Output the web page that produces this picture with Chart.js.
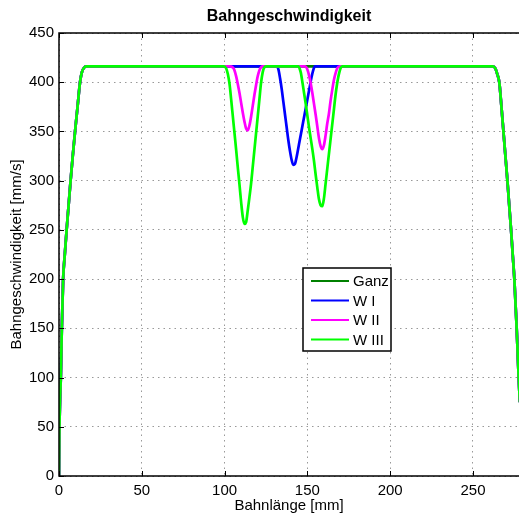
<!DOCTYPE html>
<html>
<head>
<meta charset="utf-8">
<script src="https://cdn.jsdelivr.net/npm/chart.js@4"></script>
<style>
  html, body { margin: 0; padding: 0; background: #fff; }
  #wrap { width: 519px; height: 519px; }
</style>
</head>
<body>
<div id="wrap"><canvas id="chart" width="519" height="519"></canvas></div>
<script>
// ticks
const xTicks = [0, 50, 100, 150, 200, 250];
const yTicks = [0, 50, 100, 150, 200, 250, 300, 350, 400, 450];

// shared run-up (acceleration) and run-out (braking) of every profile
const upX = [0, 0.2, 0.6, 1.1, 1.7, 2.5, 3.5, 4.6, 5.8, 7.0, 8.3, 9.7, 11.2, 12.7, 13.8, 15.0, 16.5];
const upV = [0, 40, 75, 100, 150, 200, 225, 250, 275, 300, 325, 350, 375, 400, 410, 414.5, 416];
const downX = [262.0, 263.5, 264.7, 265.9, 267.2, 268.4, 269.6, 270.8, 271.9, 273.0, 274.0, 275.0, 275.7, 276.4, 277.0, 277.6, 278.3, 279.0, 279.6];
const downV = [416, 414, 408, 400, 375, 350, 325, 300, 275, 250, 225, 200, 175, 150, 125, 100, 75, 40, 0];

// W I: one dip
const w1X = [131.5, 132.5, 133.5, 134.5, 135.5, 136.5, 137.5, 138.5, 139.5, 140.5, 141.5, 142.5, 143.5, 144.5, 145.5, 146.5, 147.5, 148.5, 149.5, 150.5, 151.5, 152.5, 153.5, 154.5];
const w1V = [416, 413, 404, 393, 380, 367, 354, 341, 330, 321, 316, 317, 324, 333, 342, 351, 360, 369, 378, 387, 396, 405, 412, 416];

// W II: two dips
const w2X = [103, 105, 106, 107, 108, 109, 110, 111, 112, 113, 114, 115, 116, 117, 118, 119, 120, 121, 122, 123,
             148.5, 150, 151, 152, 153, 154, 155, 156, 157, 158, 159, 160, 161, 162, 163, 164, 165, 166, 167, 168, 169.5];
const w2V = [416, 415, 412, 406, 398, 389, 379, 369, 360, 353, 351, 356, 365, 376, 387, 397, 406, 412, 415, 416,
             416, 413, 407, 399, 389, 378, 367, 355, 343, 335, 332, 336, 346, 358, 368, 381, 392, 402, 409, 414, 416];

// W III: two deeper dips
const w3X = [99.5, 101, 102, 103, 104, 105, 106, 107, 108, 109, 110, 111, 112, 113, 114, 115, 116, 117, 118, 119, 120, 121, 122, 123, 124, 125.5,
             144.5, 146, 147, 148, 149, 150, 151, 152, 153, 154, 155, 156, 157, 158, 159, 160, 161, 162, 163, 164, 165, 166, 167, 168, 169, 170, 171];
const w3V = [416, 414, 408, 398, 382, 365, 348, 331, 313, 296, 278, 263, 256, 258, 270, 283, 297, 314, 331, 348, 365, 382, 399, 410, 415, 416,
             416, 410, 400, 389, 378, 366, 354, 343, 332, 320, 306, 293, 281, 275, 274, 282, 297, 312, 327, 342, 357, 372, 387, 399, 408, 414, 416];

const seriesNames = ['Ganz', 'W I', 'W II', 'W III'];
const seriesColors = ['#008000', '#0000ff', '#ff00ff', '#00ff00'];

function profile(midX, midV) {
   const xs = upX.concat(midX, downX);
   const vs = upV.concat(midV, downV);
   return xs.map((x, i) => ({ x: x, y: vs[i] }));
}

const profiles = [profile([], []), profile(w1X, w1V), profile(w2X, w2V), profile(w3X, w3V)];

const FONT = 'Liberation Sans, Arial, Helvetica, sans-serif';

// axes box with inward tick marks, and the legend box inside the plot
const framePlugin = {
   id: 'frame',
   afterDatasetsDraw(chart) {
      const ctx = chart.ctx;
      const a = chart.chartArea;
      const xs = chart.scales.x, ys = chart.scales.y;
      ctx.save();
      ctx.strokeStyle = '#000';
      ctx.lineWidth = 1.5;
      ctx.beginPath();
      ctx.moveTo(a.right + 2, a.top);
      ctx.lineTo(a.left, a.top);
      ctx.lineTo(a.left, a.bottom);
      ctx.lineTo(a.right + 2, a.bottom);
      ctx.stroke();
      ctx.lineWidth = 1;
      ctx.beginPath();
      xTicks.forEach(v => {
         const px = Math.round(xs.getPixelForValue(v)) + 0.5;
         ctx.moveTo(px, a.bottom); ctx.lineTo(px, a.bottom - 5);
         ctx.moveTo(px, a.top); ctx.lineTo(px, a.top + 5);
      });
      yTicks.forEach(v => {
         const py = Math.round(ys.getPixelForValue(v)) + 0.5;
         ctx.moveTo(a.left, py); ctx.lineTo(a.left + 5, py);
      });
      ctx.stroke();

      // legend
      const lx = 303, ly = 268, lw = 88, lh = 83;
      ctx.fillStyle = '#fff';
      ctx.fillRect(lx, ly, lw, lh);
      ctx.lineWidth = 1.5;
      ctx.strokeStyle = '#000';
      ctx.strokeRect(lx, ly, lw, lh);
      ctx.font = '15px ' + FONT;
      ctx.textBaseline = 'middle';
      chart.data.datasets.forEach((ds, i) => {
         const cy = ly + 13 + i * 19.5;
         ctx.strokeStyle = ds.borderColor;
         ctx.lineWidth = 2;
         ctx.beginPath();
         ctx.moveTo(lx + 8, cy); ctx.lineTo(lx + 46, cy);
         ctx.stroke();
         ctx.fillStyle = '#000';
         ctx.fillText(ds.label, lx + 50, cy + 1);
      });
      ctx.restore();
   }
};

const config = {
   type: 'line',
   data: {
      datasets: profiles.map((pts, i) => ({
         label: seriesNames[i],
         data: pts,
         order: profiles.length - 1 - i,   // later series on top
         borderColor: seriesColors[i],
         backgroundColor: seriesColors[i],
         borderWidth: 2.7,
         pointRadius: 0,
         cubicInterpolationMode: 'monotone',
         fill: false
      }))
   },
   options: {
      responsive: false,
      animation: false,
      layout: { padding: 0 },
      plugins: {
         legend: { display: false },
         tooltip: { enabled: false },
         title: {
            display: true,
            fullSize: false,
            text: 'Bahngeschwindigkeit',
            color: '#000',
            font: { family: FONT, size: 16, weight: 'bold', lineHeight: 1.2 },
            padding: { top: 7, bottom: 6.8 }
         }
      },
      scales: {
         x: {
            type: 'linear',
            min: 0,
            max: 277.8,
            afterFit: s => { s.height = 43; },
            afterBuildTicks: s => { s.ticks = xTicks.map(v => ({ value: v })); },
            grid: { color: '#999', lineWidth: 1, drawTicks: false },
            border: { display: false, dash: [1.5, 4] },
            ticks: { color: '#000', padding: 6, font: { family: FONT, size: 15 }, maxRotation: 0 },
            title: {
               display: true,
               text: 'Bahnlänge [mm]',
               color: '#000',
               font: { family: FONT, size: 15, lineHeight: 1.2 },
               padding: { top: 0, bottom: 4 }
            }
         },
         y: {
            type: 'linear',
            min: 0,
            max: 450,
            afterFit: s => { s.width = 59; },
            afterBuildTicks: s => { s.ticks = yTicks.map(v => ({ value: v })); },
            grid: { color: '#999', lineWidth: 1, drawTicks: false },
            border: { display: false, dash: [1.5, 4] },
            ticks: { color: '#000', padding: 5, font: { family: FONT, size: 15 } },
            title: {
               display: true,
               text: 'Bahngeschwindigkeit [mm/s]',
               color: '#000',
               font: { family: FONT, size: 15, lineHeight: 1.2 },
               padding: { top: 8, bottom: 0 }
            }
         }
      }
   },
   plugins: [framePlugin]
};

const myChart = new Chart(document.getElementById('chart'), config);
</script>
</body>
</html>
